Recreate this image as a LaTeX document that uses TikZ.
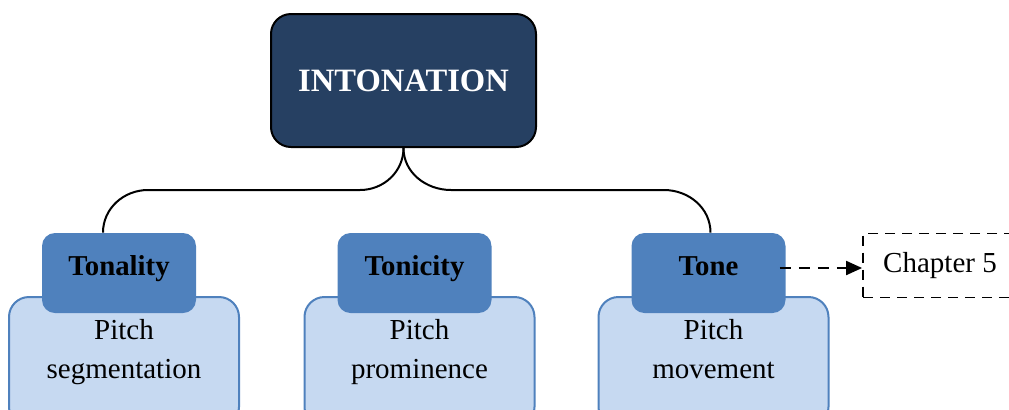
\documentclass[tikz,border=0pt]{standalone}
\usepackage{fontspec}
\setmainfont{Liberation Serif}
\usetikzlibrary{positioning,arrows.meta}

\definecolor{deepnavy}{RGB}{38,64,98}
\definecolor{headblue}{RGB}{79,129,189}
\definecolor{paleblue}{RGB}{198,217,241}

\begin{document}
\begin{tikzpicture}[x=0.5pt,y=-0.5pt,
  rootbox/.style={draw=black, line width=1pt, fill=deepnavy, rounded corners=10pt,
    minimum width=132.5pt, minimum height=66.5pt, text=white,
    font=\fontsize{16.3}{19}\selectfont\bfseries},
  headbox/.style={fill=headblue, rounded corners=6.5pt, minimum width=77pt,
    minimum height=40pt, text height=5pt, text depth=3pt,
    font=\fontsize{14.4}{17}\selectfont\bfseries},
  basebox/.style={draw=headblue, line width=1pt, fill=paleblue, rounded corners=10pt,
    minimum width=115pt, minimum height=65pt},
  bodytext/.style={align=center, font=\fontsize{14.5}{19.5}\selectfont},
  notebox/.style={draw=black, line width=0.9pt, dash pattern=on 5pt off 3.5pt,
    minimum width=77pt, minimum height=32pt, font=\fontsize{14.5}{17}\selectfont},
  link/.style={line width=1pt},
]
  % --- page frame (units are pixels, y down) ---
  \useasboundingbox (0,0) rectangle (1009,409);
  \clip (0,0) rectangle (1009,409);

  % --- top box ---
  \node[rootbox] (intonation) at (403.5,80.5) {INTONATION};

  % --- the three branches: pale base box, blue head box, text ---
  \foreach \name/\head/\body/\cx in {tonality/Tonality/segmentation/119,
      tonicity/Tonicity/prominence/414.5, tone/Tone/movement/708.5} {
    \node[basebox] (\name-base) at (\cx+5,362) {};
    \node[headbox] (\name) at (\cx,273) {\head};
    \node[bodytext] (\name-text) at (\cx+5,355) {Pitch\\\body\strut};
  }

  % --- bracket from the top box down to the outer branches ---
  \coordinate (split-l) at (360,190);
  \coordinate (split-r) at (451,190);
  \coordinate (bar-l) at (148,190);
  \coordinate (bar-r) at (664,190);
  \draw[link] (intonation.south) to[out=-90,in=0] (split-l) -- (bar-l)
    to[out=180,in=90] ([xshift=-8pt]tonality.north);
  \draw[link] (intonation.south) to[out=-90,in=180] (split-r) -- (bar-r)
    to[out=0,in=90] ([xshift=1pt]tone.north);

  % --- side note ---
  \node[notebox] (chapter) at (940,265.5) {Chapter 5};
  \draw[link, dash pattern=on 5.5pt off 4pt, -{Triangle[length=8pt,width=7pt]}]
    ([xshift=-3pt,yshift=2.5pt]tone.east) -- ([yshift=-1.25pt]chapter.west);
\end{tikzpicture}
\end{document}
